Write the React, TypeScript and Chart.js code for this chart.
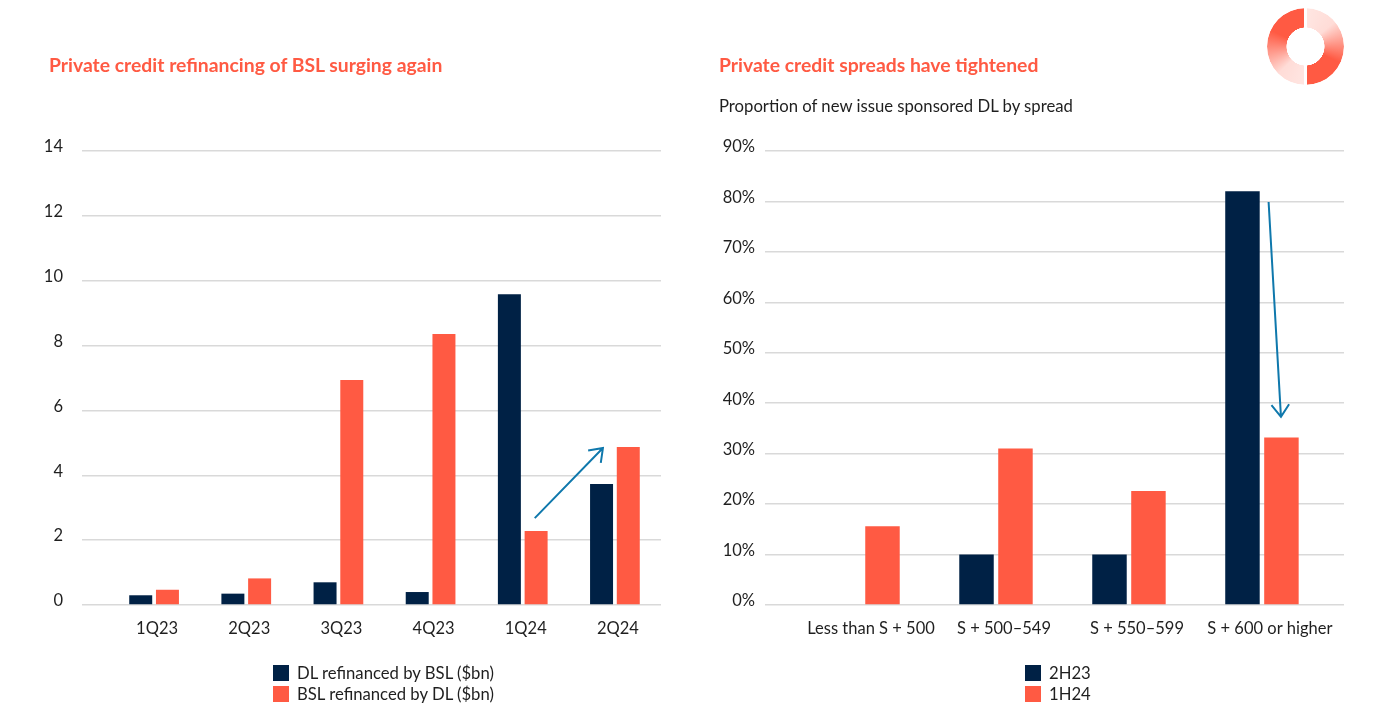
import React, { useEffect, useRef } from "react";
import { Chart, registerables } from "chart.js";

Chart.register(...registerables);

const NAVY = "#002145";
const RED = "#ff5a43";
const ARROW = "#0f78ac";
const GRID = "#d9d9d9";
const INK = "#1f1f1f";
const FONT = "Lato, sans-serif";

const quarters = ["1Q23", "2Q23", "3Q23", "4Q23", "1Q24", "2Q24"];
const dlRefinancedByBsl = [0.3, 0.35, 0.7, 0.4, 9.58, 3.73];
const bslRefinancedByDl = [0.47, 0.82, 6.94, 8.36, 2.28, 4.87];
const leftArrow = { from: [4.13, 2.68], to: [4.87, 4.84] };

const spreads = ["Less than S + 500", "S + 500–549", "S + 550–599", "S + 600 or higher"];
const h223 = [null, 10, 10, 82];
const h124 = [15.6, 31, 22.6, 33.2];
const rightArrow = { from: [3.05, 79.9], to: [3.143, 37.3] };

const arrowPlugin = {
  id: "arrowPlugin",
  afterDatasetsDraw(chart: any, _a: any, opts: any) {
    const { from, to } = opts;
    const x = chart.scales.x;
    const y = chart.scales.y;
    const x0 = x.getPixelForValue(from[0]);
    const y0 = y.getPixelForValue(from[1]);
    const x1 = x.getPixelForValue(to[0]);
    const y1 = y.getPixelForValue(to[1]);
    const angle = Math.atan2(y1 - y0, x1 - x0);
    const wing = 15;
    const ctx = chart.ctx;
    ctx.save();
    ctx.strokeStyle = ARROW;
    ctx.lineWidth = 2;
    ctx.beginPath();
    ctx.moveTo(x0, y0);
    ctx.lineTo(x1, y1);
    ctx.moveTo(x1 - wing * Math.cos(angle - Math.PI / 5), y1 - wing * Math.sin(angle - Math.PI / 5));
    ctx.lineTo(x1, y1);
    ctx.lineTo(x1 - wing * Math.cos(angle + Math.PI / 5), y1 - wing * Math.sin(angle + Math.PI / 5));
    ctx.stroke();
    ctx.restore();
  },
};

function useChart(build: (c: HTMLCanvasElement) => Chart) {
  const ref = useRef<HTMLCanvasElement | null>(null);
  useEffect(() => {
    const chart = build(ref.current as HTMLCanvasElement);
    return () => chart.destroy();
  }, []);
  return ref;
}

const tickFont = { family: FONT, size: 16.5 };

function buildLeft(canvas: HTMLCanvasElement) {
  return new Chart(canvas, {
    type: "bar",
    data: {
      labels: quarters,
      datasets: [
        { label: "DL refinanced by BSL ($bn)", data: dlRefinancedByBsl, backgroundColor: NAVY },
        { label: "BSL refinanced by DL ($bn)", data: bslRefinancedByDl, backgroundColor: RED },
      ],
    },
    plugins: [arrowPlugin],
    options: {
      responsive: false,
      animation: false,
      layout: { padding: { top: 151, right: 35, left: 0, bottom: 0 } },
      datasets: { bar: { categoryPercentage: 0.58, barPercentage: 0.86 } },
      plugins: { legend: { display: false }, tooltip: { enabled: false }, title: { display: false }, arrowPlugin: leftArrow },
      scales: {
        x: {
          grid: { display: false },
          border: { display: false },
          ticks: { color: INK, font: tickFont, padding: 6, labelOffset: 3, maxRotation: 0 },
          afterFit: (s: any) => { s.height = 117; },
        },
        y: {
          min: 0,
          max: 14,
          grid: { color: GRID, lineWidth: 1.5, tickLength: 26, tickColor: GRID },
          border: { display: false },
          ticks: { stepSize: 2, color: INK, font: tickFont, padding: 19, labelOffset: -4 },
          afterFit: (s: any) => { s.width = 108; },
        },
      },
    },
  } as any);
}

function buildRight(canvas: HTMLCanvasElement) {
  return new Chart(canvas, {
    type: "bar",
    data: {
      datasets: [
        { label: "2H23", data: h223.map((y, x) => ({ x, y })), backgroundColor: NAVY },
        { label: "1H24", data: h124.map((y, x) => ({ x, y })), backgroundColor: RED },
      ],
    },
    plugins: [arrowPlugin],
    options: {
      responsive: false,
      animation: false,
      layout: { padding: { top: 151, right: 48, left: 0, bottom: 0 } },
      datasets: { bar: { categoryPercentage: 0.586, barPercentage: 0.885 } },
      plugins: { legend: { display: false }, tooltip: { enabled: false }, title: { display: false }, arrowPlugin: rightArrow },
      scales: {
        x: {
          type: "linear",
          offset: false,
          min: -0.737,
          max: 3.617,
          grid: { display: false, offset: false },
          border: { display: false },
          afterBuildTicks: (s: any) => { s.ticks = spreads.map((_, value) => ({ value })); },
          ticks: {
            color: INK,
            font: tickFont,
            padding: 6,
            labelOffset: 8,
            maxRotation: 0,
            autoSkip: false,
            callback: (v: any) => spreads[v],
          },
          afterFit: (s: any) => { s.height = 117; },
        },
        y: {
          min: 0,
          max: 90,
          grid: { color: GRID, lineWidth: 1.5, drawTicks: false },
          border: { display: false },
          ticks: { stepSize: 10, color: INK, font: tickFont, padding: 10, labelOffset: -4, callback: (v: any) => v + "%" },
          afterFit: (s: any) => { s.width = 69; },
        },
      },
    },
  } as any);
}

const abs = (left: number, top: number): React.CSSProperties => ({ position: "absolute", left, top });

function Legend({ left, items }: { left: number; items: [string, string][] }) {
  return (
    <>
      {items.map(([label, color], i) => (
        <React.Fragment key={label}>
          <div style={{ ...abs(left, 665 + i * 20.5), width: 16, height: 16, background: color }} />
          <div style={{ ...abs(left + 24, 663 + i * 20.5), fontSize: 16.7, lineHeight: "20px", color: INK, whiteSpace: "nowrap" }}>{label}</div>
        </React.Fragment>
      ))}
    </>
  );
}

function Logo() {
  const size = 77;
  const mask = "radial-gradient(circle closest-side, transparent 49%, #000 50%)";
  return (
    <div style={{ ...abs(1267, 8), width: size, height: size }}>
      <div
        style={{
          width: size,
          height: size,
          borderRadius: "50%",
          background: `conic-gradient(#ffe6e2 0deg, #ffdcd7 50deg, ${RED} 115deg, ${RED} 180deg, #ffe6e2 180deg, #ffdcd7 225deg, ${RED} 295deg, ${RED} 360deg)`,
          WebkitMaskImage: mask,
          maskImage: mask,
        }}
      />
      <div style={{ ...abs(size / 2 - 1.5, 0), width: 3, height: size, background: "#fff" }} />
    </div>
  );
}

export default function App() {
  const leftRef = useChart(buildLeft);
  const rightRef = useChart(buildRight);
  const titleStyle: React.CSSProperties = { fontSize: 19.35, fontWeight: 700, lineHeight: "24px", color: RED, whiteSpace: "nowrap" };
  return (
    <div style={{ ...abs(0, 0), width: 1392, height: 722, background: "#fff", fontFamily: FONT, overflow: "hidden" }}>
      <canvas ref={leftRef} width={696} height={722} style={{ ...abs(0, 0), width: 696, height: 722 }} />
      <canvas ref={rightRef} width={696} height={722} style={{ ...abs(696, 0), width: 696, height: 722 }} />
      <div style={{ ...abs(49, 53), ...titleStyle }}>Private credit refinancing of BSL surging again</div>
      <div style={{ ...abs(719, 53), ...titleStyle }}>Private credit spreads have tightened</div>
      <div style={{ ...abs(719, 95), fontSize: 16.7, lineHeight: "22px", color: INK, whiteSpace: "nowrap" }}>Proportion of new issue sponsored DL by spread</div>
      <Legend left={273} items={[["DL refinanced by BSL ($bn)", NAVY], ["BSL refinanced by DL ($bn)", RED]]} />
      <Legend left={1025} items={[["2H23", NAVY], ["1H24", RED]]} />
      <Logo />
    </div>
  );
}
